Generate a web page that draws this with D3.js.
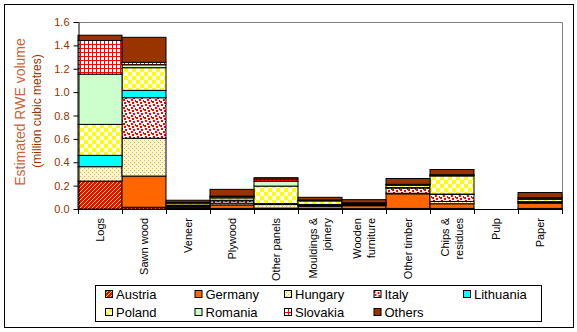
<!DOCTYPE html>
<html><head><meta charset="utf-8">
<script src="https://cdn.jsdelivr.net/npm/d3@7"></script>
<style>body{margin:0;background:#fff}svg{display:block;font-family:"Liberation Sans",Arial,sans-serif}</style>
</head><body>
<svg id="chart" width="577" height="332"></svg>
<script>
const categories = ["Logs","Sawn wood","Veneer","Plywood","Other panels","Mouldings &\njoinery","Wooden\nfurniture","Other timber","Chips &\nresidues","Pulp","Paper"];
const countries = ["Austria","Germany","Hungary","Italy","Lithuania","Poland","Romania","Slovakia","Others"];
const austria   = [0.239,0.015,0.005,0.005,0.003,0.003,0.003,0.005,0.005,0,0.005];
const germany   = [0,    0.267,0.010,0.030,0.005,0.020,0.025,0.125,0.040,0,0.045];
const hungary   = [0.123,0.323,0.005,0.015,0.030,0.005,0.003,0.005,0.020,0,0.005];
const italy     = [0,    0.347,0.005,0.020,0.005,0.008,0.003,0.045,0.060,0,0.005];
const lithuania = [0.097,0.063,0.005,0.005,0.003,0.003,0.003,0.003,0.003,0,0.003];
const poland    = [0.265,0.194,0.015,0.020,0.150,0.030,0.006,0.020,0.155,0,0.020];
const romania   = [0.430,0.025,0.010,0.010,0.040,0.005,0.008,0.005,0.005,0,0.010];
const slovakia  = [0.288,0.021,0.003,0.005,0.020,0.003,0.002,0.003,0.005,0,0.003];
const others    = [0.045,0.214,0.017,0.058,0.012,0.023,0.027,0.050,0.045,0,0.045];
const yTicks = [0,0.2,0.4,0.6,0.8,1.0,1.2,1.4,1.6];
const yTitle = "Estimated RWE volume";
const ySubtitle = "(million cubic metres)";

const seriesValues = [austria,germany,hungary,italy,lithuania,poland,romania,slovakia,others];
const rows = categories.map((c,i)=>{const r={cat:c}; countries.forEach((k,j)=>r[k]=seriesValues[j][i]); return r;});

const svg = d3.select("#chart");
const defs = svg.append("defs");

function pat(id,w,h,bg){const p=defs.append("pattern").attr("id",id).attr("patternUnits","userSpaceOnUse").attr("width",w).attr("height",h);
  p.append("rect").attr("width",w).attr("height",h).attr("fill",bg).attr("shape-rendering","crispEdges"); return p;}
function px(p,pts,col,s){pts.forEach(([a,b])=>p.append("rect").attr("x",a).attr("y",b).attr("width",s||1).attr("height",s||1).attr("fill",col).attr("shape-rendering","crispEdges"));}
// Austria: red with yellow diagonals
px(pat("pAustria",4,4,"#FF0000"),[[3,0],[2,1],[1,2],[0,3]],"#FFFF00");
// Hungary: light yellow with lavender dots
px(pat("pHungary",4,4,"#FFFF99"),[[0,0],[2,2]],"#CC99FF");
// Italy: white with red confetti
px(pat("pItaly",8,8,"#FFFFFF"),[[1,0],[5,1],[3,3],[7,4],[0,5],[4,6]],"#FF0000",2);
// Poland: yellow/white checker
px(pat("pPoland",8,8,"#FFFFFF"),[[0,0],[4,4]],"#FFFF00",4);
// Slovakia: red grid
{const p=pat("pSlovakia",4,4,"#FFFFFF");
 p.append("rect").attr("x",0).attr("y",0).attr("width",4).attr("height",1).attr("fill","#FF0000").attr("shape-rendering","crispEdges");
 p.append("rect").attr("x",0).attr("y",0).attr("width",1).attr("height",4).attr("fill","#FF0000").attr("shape-rendering","crispEdges");}

const fills = {Austria:"url(#pAustria)",Germany:"#FF6600",Hungary:"url(#pHungary)",Italy:"url(#pItaly)",Lithuania:"#00FFFF",
  Poland:"url(#pPoland)",Romania:"#CCFFCC",Slovakia:"url(#pSlovakia)",Others:"#993300"};

svg.append("rect").attr("x",4.5).attr("y",4.5).attr("width",569).attr("height",323).attr("fill","none").attr("stroke","#000");

const x = d3.scaleBand().domain(categories).range([78,562]).padding(0);
const y = d3.scaleLinear().domain([0,1.6]).range([209,22]);

svg.append("path").attr("d",`M${x.range()[0]},${y(1.6)+0.5}H${x.range()[1]+0.5}V${y(0)}`).attr("fill","none").attr("stroke","#808080");

const stack = d3.stack().keys(countries)(rows);
svg.append("g").selectAll("g").data(stack).join("g").attr("fill",d=>fills[d.key])
  .selectAll("rect").data(d=>d.filter(s=>s[1]-s[0]>0)).join("rect")
  .attr("x",d=>x(d.data.cat)).attr("width",x.bandwidth())
  .attr("y",d=>y(d[1])).attr("height",d=>y(d[0])-y(d[1]))
  .attr("stroke","#000").attr("stroke-width",1);

const ya = svg.append("g").attr("transform","translate(78.5,0)")
  .call(d3.axisLeft(y).tickValues(yTicks).tickFormat(d3.format(".1f")).tickSize(5).tickSizeOuter(0).tickPadding(4));
ya.select(".domain").attr("stroke","#000");
ya.selectAll(".tick line").attr("stroke","#000");
ya.selectAll("text").attr("fill","#993300").attr("font-size",11).attr("font-family","Liberation Sans, Arial");

const xa = svg.append("g");
xa.append("line").attr("x1",78).attr("x2",562).attr("y1",209.5).attr("y2",209.5).attr("stroke","#000");
const bounds = categories.map(c=>x(c)).concat([x.range()[1]]);
xa.selectAll("line.t").data(bounds).join("line").attr("class","t")
  .attr("x1",d=>Math.round(d)+0.5).attr("x2",d=>Math.round(d)+0.5).attr("y1",209).attr("y2",214).attr("stroke","#000");

const lab = svg.append("g").selectAll("text").data(categories).join("text")
  .attr("transform",c=>`translate(${x(c)+x.bandwidth()/2},218) rotate(-90)`)
  .attr("text-anchor","end").attr("font-size",11).attr("fill","#000");
lab.each(function(c){
  const lines=c.split("\n"); const t=d3.select(this);
  lines.forEach((l,i)=>t.append("tspan").attr("x",0).attr("y",(i-(lines.length-1)/2)*14).attr("dy","0.35em").text(l));
});

svg.append("text").attr("transform","translate(25,112) rotate(-90)").attr("text-anchor","middle")
  .attr("font-size",14).attr("fill","#C8643C").text(yTitle);
svg.append("text").attr("transform","translate(41,111) rotate(-90)").attr("text-anchor","middle")
  .attr("font-size",12).attr("fill","#993300").text(ySubtitle);

const lg = svg.append("g");
lg.append("rect").attr("x",95.5).attr("y",285.5).attr("width",446).attr("height",36).attr("fill","#fff").attr("stroke","#000");
const li = lg.selectAll("g").data(countries).join("g")
  .attr("transform",(d,i)=>`translate(${105+(i%5)*89.5},${i<5?294:312})`);
li.append("rect").attr("x",0.5).attr("y",-3.5).attr("width",7).attr("height",7).attr("fill",d=>fills[d]).attr("stroke","#000");
li.append("text").attr("x",11).attr("y",0).attr("dy","0.36em").attr("font-size",13).attr("fill","#000").text(d=>d);
</script>
</body></html>
